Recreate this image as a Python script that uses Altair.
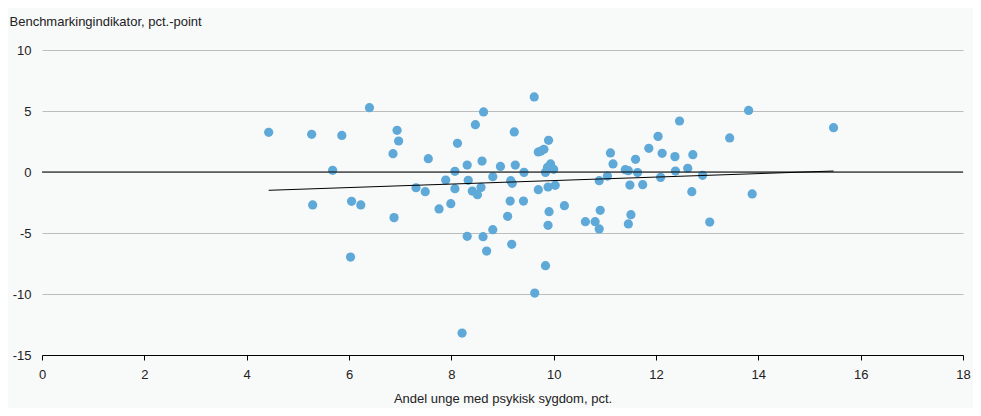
import altair as alt
import pandas as pd

x_vals = [4.43, 5.27, 5.86, 6.40, 5.68, 5.29, 6.05, 6.23, 6.03, 6.94,
          6.97, 6.86, 6.88, 7.55, 7.31, 7.49, 7.76, 7.99, 7.89, 8.07,
          8.07, 8.12, 8.31, 8.33, 8.41, 8.51, 8.58, 8.60, 8.47, 8.63,
          8.81, 8.31, 8.62, 8.81, 8.69, 8.21, 8.96, 9.23, 9.25, 9.42,
          9.16, 9.19, 9.15, 9.41, 9.10, 9.18, 9.62, 9.63, 9.84, 9.70,
          9.75, 9.81, 9.90, 9.94, 9.88, 10.00, 9.84, 9.70, 9.89, 10.03,
          9.91, 9.89, 10.21, 10.62, 10.81, 10.91, 10.89, 10.89, 11.05, 11.11,
          11.16, 11.40, 11.46, 11.49, 11.51, 11.46, 11.60, 11.64, 11.74, 11.86,
          12.04, 12.12, 12.09, 12.37, 12.38, 12.46, 12.62, 12.72, 12.70, 12.91,
          13.05, 13.44, 13.81, 13.88, 15.47]
y_vals = [3.25, 3.09, 3.00, 5.27, 0.14, -2.70, -2.40, -2.70, -6.97, 3.42,
          2.54, 1.50, -3.74, 1.09, -1.29, -1.61, -3.03, -2.60, -0.66, 0.06,
          -1.37, 2.35, 0.57, -0.68, -1.56, -1.86, -1.26, 0.90, 3.88, 4.92,
          -0.38, -5.27, -5.30, -4.73, -6.48, -13.2, 0.46, 3.28, 0.57, -0.03,
          -0.71, -0.93, -2.38, -2.38, -3.63, -5.93, 6.15, -9.92, -7.68, 1.64,
          1.72, 1.86, 2.60, 0.66, 0.38, 0.22, -0.03, -1.45, -1.23, -1.09,
          -3.25, -4.37, -2.76, -4.07, -4.07, -3.14, -4.67, -0.71, -0.33, 1.56,
          0.66, 0.19, 0.11, -1.07, -3.50, -4.26, 1.04, -0.05, -1.04, 1.94,
          2.92, 1.53, -0.44, 1.26, 0.08, 4.18, 0.30, 1.42, -1.61, -0.27,
          -4.10, 2.79, 5.05, -1.80, 3.63]

trend_x = [4.43, 15.47]
trend_y = [-1.50, 0.08]

x_ticks = [0, 2, 4, 6, 8, 10, 12, 14, 16, 18]
y_ticks = [-15, -10, -5, 0, 5, 10]

x_title = "Andel unge med psykisk sygdom, pct."
y_title = "Benchmarkingindikator, pct.-point"

pts = pd.DataFrame({"x": x_vals, "y": y_vals})
trend = pd.DataFrame({"x": trend_x, "y": trend_y})
zero = pd.DataFrame({"y": [0]})

FONT = "Liberation Sans"
BG = "#f8f9f9"

xscale = alt.Scale(domain=[0, 18], nice=False, zero=False)
yscale = alt.Scale(domain=[-15, 10], nice=False, zero=False)

base_x = alt.X("x:Q", scale=xscale,
               axis=alt.Axis(values=x_ticks, title=x_title, grid=False,
                             domainColor="#000000", tickColor="#000000",
                             tickSize=5, labelPadding=8, labelFontSize=13,
                             labelFlush=False,
                             labelColor="#222222", titleFontSize=13,
                             titleFontWeight="normal", titleColor="#222222",
                             titlePadding=11, labelFont=FONT, titleFont=FONT))
base_y = alt.Y("y:Q", scale=yscale,
               axis=alt.Axis(values=y_ticks, title=y_title, domain=False,
                             ticks=False, tickSize=0, labelPadding=11,
                             labelFlush=False,
                             labelExpr="toString(datum.value)",
                             gridColor="#bdbdbd", gridWidth=1,
                             labelFontSize=13, labelColor="#222222",
                             titleFontSize=13, titleFontWeight="normal",
                             titleColor="#222222", titleAngle=0,
                             titleAlign="left", titleBaseline="alphabetic",
                             titleX=-33, titleY=-25,
                             labelFont=FONT, titleFont=FONT))

points = alt.Chart(pts).mark_circle(size=85, color="#5ea9d8", opacity=1).encode(
    x=base_x, y=base_y)

zero_line = alt.Chart(zero).mark_rule(color="#000000", strokeWidth=1.2).encode(
    y=alt.Y("y:Q", scale=yscale))

trend_line = alt.Chart(trend).mark_line(color="#000000", strokeWidth=1).encode(
    x=alt.X("x:Q", scale=xscale), y=alt.Y("y:Q", scale=yscale))

chart = alt.layer(points, zero_line, trend_line).properties(
    width=921, height=305,
    autosize=alt.AutoSizeParams(type="none"),
    padding={"left": 34, "top": 42, "right": 10, "bottom": 53},
    background=BG,
).configure_view(stroke=None, fill=BG)

chart.save("out.html", embed_options={"renderer": "svg", "actions": False})
